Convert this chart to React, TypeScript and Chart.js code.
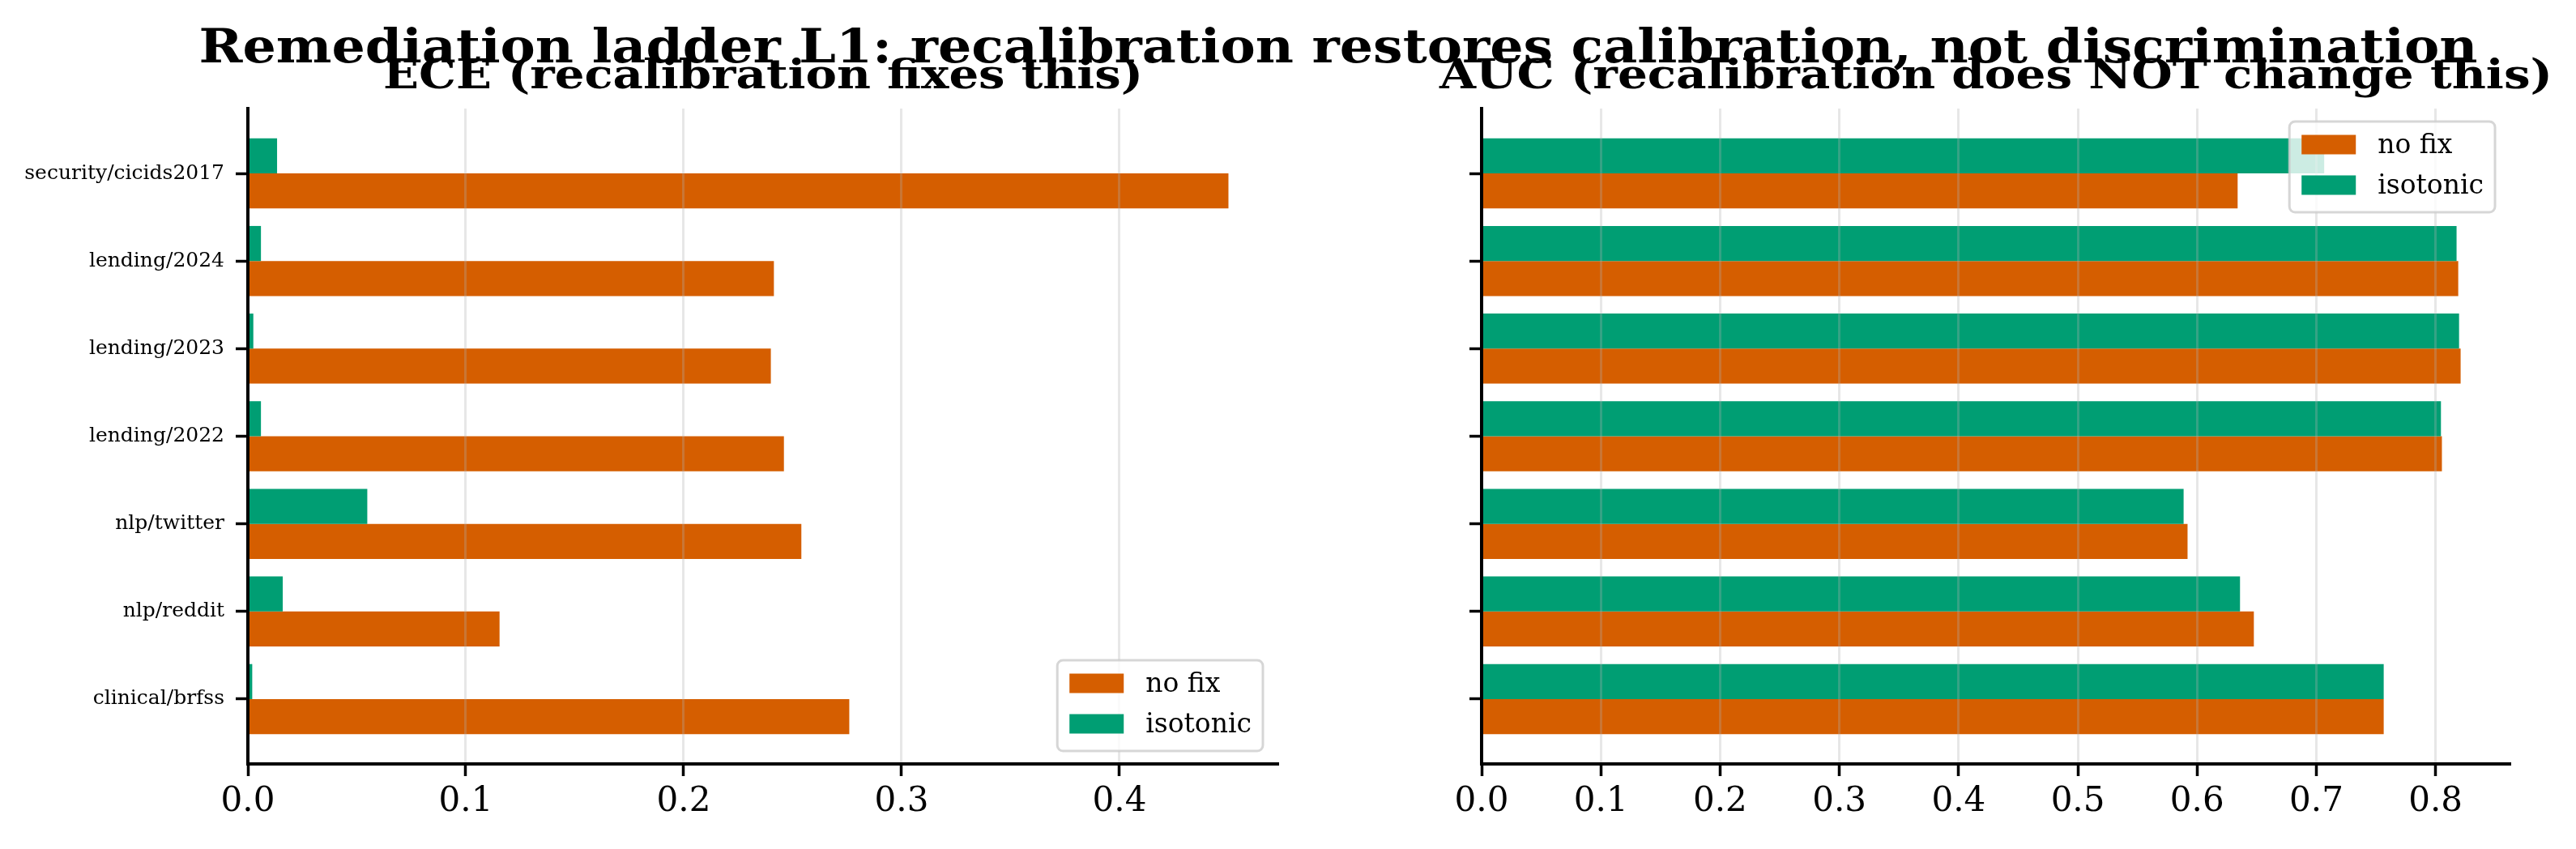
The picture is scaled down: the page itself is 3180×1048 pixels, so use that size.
import React, { useEffect, useRef, useMemo } from "react";
import { Chart, registerables } from "chart.js";

Chart.register(...registerables);

// ---------- data ----------
const categories = [
  "clinical/brfss",
  "nlp/reddit",
  "nlp/twitter",
  "lending/2022",
  "lending/2023",
  "lending/2024",
  "security/cicids2017",
];
const seriesLabels = ["no fix", "isotonic"];
const seriesColors = ["#D55E00", "#009E73"];

const eceNoFix = [0.276, 0.1155, 0.254, 0.246, 0.24, 0.2414, 0.45];
const eceIsotonic = [0.002, 0.016, 0.0548, 0.006, 0.0025, 0.006, 0.0134];
const aucNoFix = [0.7565, 0.6476, 0.592, 0.8053, 0.821, 0.819, 0.634];
const aucIsotonic = [0.7565, 0.636, 0.5887, 0.8045, 0.8197, 0.8176, 0.7066];

const eceTicks = [0, 0.1, 0.2, 0.3, 0.4];
const aucTicks = [0, 0.1, 0.2, 0.3, 0.4, 0.5, 0.6, 0.7, 0.8];

const mainTitle =
  "Remediation ladder L1: recalibration restores calibration, not discrimination";
const eceTitle = "ECE (recalibration fixes this)";
const aucTitle = "AUC (recalibration does NOT change this)";

// ---------- styling ----------
const FAMILY = "'DejaVu Serif', serif";
const W = 3180;
const H = 1048;

const legendPlugin = {
  id: "mplLegend",
  afterDraw(chart: any, _args: any, opts: any) {
    const { ctx, chartArea } = chart;
    const fs = 33;
    ctx.save();
    ctx.font = `${fs}px ${FAMILY}`;
    const ds = chart.data.datasets;
    const textW = Math.max(...ds.map((d: any) => ctx.measureText(d.label).width));
    const padL = 15, handleW = 67, handleH = 24, gap = 27, padR = 14;
    const boxW = padL + handleW + gap + textW + padR;
    const boxH = 112;
    const x = chartArea.right - 18 - boxW;
    const y = opts.loc === "upper" ? chartArea.top + 16 : chartArea.bottom - 16 - boxH;
    ctx.beginPath();
    (ctx as any).roundRect(x, y, boxW, boxH, 7);
    ctx.fillStyle = "rgba(255,255,255,0.8)";
    ctx.fill();
    ctx.lineWidth = 3;
    ctx.strokeStyle = "rgba(204,204,204,0.8)";
    ctx.stroke();
    ds.forEach((d: any, i: number) => {
      const cy = y + 28.5 + i * 50;
      ctx.fillStyle = d.backgroundColor;
      ctx.fillRect(x + padL, cy - handleH / 2, handleW, handleH);
      ctx.fillStyle = "#000";
      ctx.textBaseline = "alphabetic";
      ctx.textAlign = "left";
      ctx.fillText(d.label, x + padL + handleW + gap, cy + 10.5);
    });
    ctx.restore();
  },
};

function makeConfig(
  noFix: number[],
  iso: number[],
  ticks: number[],
  yAxisW: number,
  padRight: number,
  showY: boolean,
  loc: string
): any {
  const xmax = Math.max(...noFix, ...iso) * 1.05;
  return {
    type: "bar",
    data: {
      datasets: [
        {
          label: seriesLabels[0],
          data: noFix.map((v, i) => ({ x: v, y: i })),
          backgroundColor: seriesColors[0],
          borderWidth: 0,
          order: 1,
        },
        {
          label: seriesLabels[1],
          data: iso.map((v, i) => ({ x: v, y: i })),
          backgroundColor: seriesColors[1],
          borderWidth: 0,
          order: 0,
        },
      ],
    },
    options: {
      indexAxis: "y",
      responsive: false,
      animation: false,
      devicePixelRatio: 1,
      categoryPercentage: 0.8,
      barPercentage: 1.0,
      layout: { padding: { top: 134, right: padRight, bottom: 0, left: 0 } },
      plugins: {
        legend: { display: false },
        tooltip: { enabled: false },
        title: { display: false },
        mplLegend: { loc },
      },
      scales: {
        x: {
          type: "linear",
          min: 0,
          max: xmax,
          offset: false,
          afterBuildTicks: (axis: any) => {
            axis.ticks = ticks.map((v) => ({ value: v }));
          },
          afterFit: (s: any) => {
            s.height = H - 943;
          },
          ticks: {
            autoSkip: false,
            maxRotation: 0,
            color: "#000",
            padding: 7,
            font: { family: FAMILY, size: 42 },
            callback: (v: any) => Number(v).toFixed(1),
          },
          grid: {
            display: true,
            offset: false,
            drawOnChartArea: true,
            color: "rgba(176,176,176,0.3)",
            lineWidth: 3,
            drawTicks: true,
            tickLength: 15,
            tickColor: "#000",
            tickWidth: 3.5,
            z: 1,
          },
          border: { display: true, color: "#000", width: 4, z: 2 },
        },
        y: {
          type: "linear",
          min: -0.74,
          max: 6.74,
          offset: false,
          afterBuildTicks: (axis: any) => {
            axis.ticks = categories.map((_, i) => ({ value: i }));
          },
          afterFit: (s: any) => {
            s.width = yAxisW;
          },
          ticks: {
            display: showY,
            autoSkip: false,
            color: "#000",
            padding: 14,
            font: { family: FAMILY, size: 25 },
            callback: (v: any) => categories[Math.round(Number(v))],
          },
          grid: {
            display: true,
            offset: false,
            drawOnChartArea: false,
            drawTicks: true,
            tickLength: 15,
            tickColor: "#000",
            tickWidth: 3.5,
            z: 1,
          },
          border: { display: true, color: "#000", width: 4, z: 2 },
        },
      },
    },
    plugins: [legendPlugin],
  };
}

// horizontal stretch so that the (synthesised) bold title spans the reference width
function stretchFor(text: string, size: number, target: number): number {
  if (typeof document === "undefined") return 1;
  const c = document.createElement("canvas").getContext("2d");
  if (!c) return 1;
  c.font = `bold ${size}px ${FAMILY}`;
  const w = c.measureText(text).width;
  return w > 0 ? target / w : 1;
}

export default function App() {
  const leftRef = useRef<HTMLCanvasElement>(null);
  const rightRef = useRef<HTMLCanvasElement>(null);

  useEffect(() => {
    const c1 = new Chart(
      leftRef.current as HTMLCanvasElement,
      makeConfig(eceNoFix, eceIsotonic, eceTicks, 306, 1600 - 1577, true, "lower")
    );
    const c2 = new Chart(
      rightRef.current as HTMLCanvasElement,
      makeConfig(aucNoFix, aucIsotonic, aucTicks, 1829 - 1600, 1580 - 1498, false, "upper")
    );
    return () => {
      c1.destroy();
      c2.destroy();
    };
  }, []);

  const sMain = useMemo(() => stretchFor(mainTitle, 58, 2813), []);
  const sEce = useMemo(() => stretchFor(eceTitle, 50, 938), []);
  const sAuc = useMemo(() => stretchFor(aucTitle, 50, 1374), []);

  const titleStyle = (
    center: number,
    baseline: number,
    size: number,
    sx: number
  ): React.CSSProperties => ({
    position: "absolute",
    left: center - 1600,
    width: 3200,
    top: baseline - 0.846 * size,
    textAlign: "center",
    fontFamily: FAMILY,
    fontWeight: "bold",
    fontSize: size,
    lineHeight: `${size}px`,
    whiteSpace: "nowrap",
    color: "#000",
    pointerEvents: "none",
    transform: `scaleX(${sx})`,
    transformOrigin: "50% 50%",
  });

  return (
    <div
      style={{
        position: "absolute",
        left: 0,
        top: 0,
        width: W,
        height: H,
        overflow: "hidden",
        background: "#fff",
      }}
    >
      <canvas
        ref={leftRef}
        width={1600}
        height={H}
        style={{ position: "absolute", left: 0, top: 0, width: 1600, height: H }}
      />
      <canvas
        ref={rightRef}
        width={1580}
        height={H}
        style={{ position: "absolute", left: 1600, top: 0, width: 1580, height: H }}
      />
      <div style={titleStyle(941.5, 109, 50, sEce)}>{eceTitle}</div>
      <div style={titleStyle(2463.5, 109, 50, sAuc)}>{aucTitle}</div>
      <div style={titleStyle(1651.5, 77, 58, sMain)}>{mainTitle}</div>
    </div>
  );
}
